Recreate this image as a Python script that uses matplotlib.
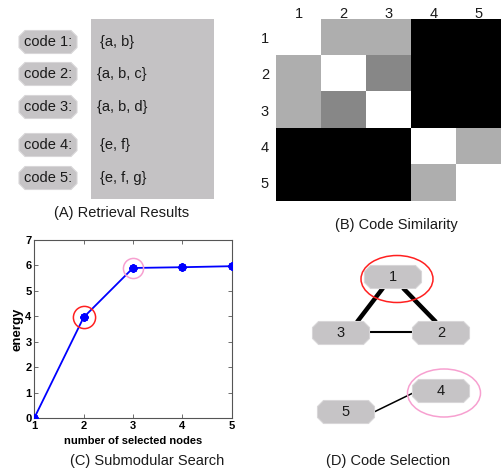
import numpy as np
import matplotlib
matplotlib.use('Agg')
import matplotlib.pyplot as plt
from matplotlib.patches import Polygon, Rectangle, Ellipse

plt.rcParams['font.family'] = ['Liberation Sans', 'DejaVu Sans']

# (A) retrieval results
codes = ['code 1:', 'code 2:', 'code 3:', 'code 4:', 'code 5:']
code_sets = ['{a, b}', '{a, b, c}', '{a, b, d}', '{e, f}', '{e, f, g}']

# (B) code similarity (gray level, 1 = white)
labels = ['1', '2', '3', '4', '5']
similarity = np.array([
    [1.00, 0.68, 0.68, 0.00, 0.00],
    [0.68, 1.00, 0.53, 0.00, 0.00],
    [0.68, 0.53, 1.00, 0.00, 0.00],
    [0.00, 0.00, 0.00, 1.00, 0.68],
    [0.00, 0.00, 0.00, 0.68, 1.00],
])

# (C) submodular search
n_selected = [1, 2, 3, 4, 5]
energy = [0.0, 3.96, 5.90, 5.93, 5.97]
picked = [1, 2]  # indices circled (red, pink)

# (D) code selection graph
nodes = ['1', '2', '3', '4', '5']
edges = [('1', '3', 'thick'), ('1', '2', 'thick'), ('3', '2', 'thin'), ('5', '4', 'thin')]

W, H = 501, 469
fig = plt.figure(figsize=(W / 100, H / 100), dpi=100)
bg = fig.add_axes([0, 0, 1, 1])
bg.set_xlim(0, W)
bg.set_ylim(H, 0)
bg.axis('off')

BOX = '#c6c4c6'
TXT = '#1a1a1a'


def octagon(ax, cx, cy, w=57, h=23, c=6, **kw):
    x0, x1, y0, y1 = cx - w / 2, cx + w / 2, cy - h / 2, cy + h / 2
    pts = [(x0 + c, y0), (x1 - c, y0), (x1, y0 + c), (x1, y1 - c),
           (x1 - c, y1), (x0 + c, y1), (x0, y1 - c), (x0, y0 + c)]
    ax.add_patch(Polygon(pts, closed=True, facecolor=BOX, edgecolor='#d8d6d8', lw=0.8, **kw))


# ---- panel A
bg.add_patch(Rectangle((91, 19), 123, 180, facecolor='#c4c2c4', edgecolor='none'))
row_y = [42, 74, 107, 145, 178]
set_x = [100, 97, 97, 100, 100]
for lab, s, y, sx in zip(codes, code_sets, row_y, set_x):
    octagon(bg, 48, y, w=58, h=23)
    bg.text(48, y, lab, ha='center', va='center', fontsize=10.5, color=TXT)
    bg.text(sx, y, s, ha='left', va='center', fontsize=10.5, color=TXT)
bg.text(122, 213, '(A) Retrieval Results', ha='center', va='center', fontsize=10.5, color=TXT)

# ---- panel B
axb = fig.add_axes([276 / W, (H - 201) / H, 225 / W, 182 / H])
axb.imshow(similarity, cmap='gray', vmin=0, vmax=1, aspect='auto', interpolation='nearest')
axb.set_xticks(range(5))
axb.set_xticklabels(labels)
axb.set_yticks(range(5))
axb.set_yticklabels(labels)
axb.xaxis.tick_top()
axb.tick_params(length=0, labelsize=10.5, labelcolor=TXT)
axb.tick_params(axis='x', pad=-1.5)
axb.tick_params(axis='y', pad=5)
for sp in axb.spines.values():
    sp.set_visible(False)
bg.text(396, 225, '(B) Code Similarity', ha='center', va='center', fontsize=10.5, color=TXT)

# ---- panel C
axc = fig.add_axes([34.3 / W, (H - 418) / H, 197.4 / W, 178 / H])
axc.plot(n_selected, energy, color='blue', lw=1.3, marker=(8, 2, 0), markersize=6,
         markeredgewidth=1.6, zorder=3)
circ_colors = ['#ff2020', '#f7a0d0']
for i, col in zip(picked, circ_colors):
    axc.plot(n_selected[i], energy[i], marker='o', markersize=16 if i == 1 else 14.5,
             markerfacecolor='none', markeredgecolor=col, markeredgewidth=1.1, zorder=4)
axc.set_xlim(1, 5)
axc.set_ylim(0, 7)
axc.set_xticks(n_selected)
axc.set_yticks(range(8))
axc.tick_params(direction='in', top=True, right=True, length=3, width=0.6,
                color='#555555', labelsize=8, pad=2)
for t in axc.get_xticklabels() + axc.get_yticklabels():
    t.set_fontweight('bold')
for sp in axc.spines.values():
    sp.set_color('#555555')
    sp.set_linewidth(0.8)
axc.set_xlabel('number of selected nodes', fontsize=8, fontweight='bold', labelpad=4)
axc.set_ylabel('energy', fontsize=9.5, fontweight='bold', labelpad=1)
bg.text(147, 461, '(C) Submodular Search', ha='center', va='center', fontsize=10.5, color=TXT)

# ---- panel D
pos = {'1': (393, 277), '2': (441, 333), '3': (341, 333), '4': (441, 391), '5': (346, 412)}
ports = {('1', '3'): ((383, 288), (357, 322)),
         ('1', '2'): ((403, 288), (436, 322)),
         ('3', '2'): ((369, 332), (413, 332)),
         ('5', '4'): ((374, 412), (413, 393))}
widths = {'thick': 3.2, 'thin': 1.5}
for a, b, kind in edges:
    (xa, ya), (xb, yb) = ports[(a, b)]
    lw = widths[kind] if (a, b) != ('5', '4') else 1.1
    bg.plot([xa, xb], [ya, yb], color='black', lw=lw, solid_capstyle='butt', zorder=2)
for n in nodes:
    x, y = pos[n]
    octagon(bg, x, y, zorder=3)
    bg.text(x, y, n, ha='center', va='center', fontsize=10.5, color=TXT, zorder=4)
bg.add_patch(Ellipse((397, 279), 72, 47, facecolor='none', edgecolor='#ff2020', lw=1.1, zorder=5))
bg.add_patch(Ellipse((444, 393), 73, 48, facecolor='none', edgecolor='#f7a0d0', lw=1.1, zorder=5))
bg.text(388, 461, '(D) Code Selection', ha='center', va='center', fontsize=10.5, color=TXT)

fig.savefig('out.png', dpi=100)
